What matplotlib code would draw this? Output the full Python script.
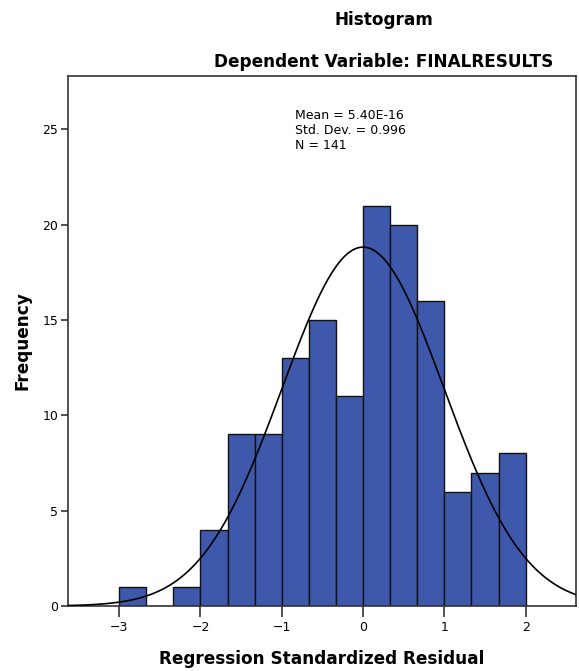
import numpy as np
import matplotlib.pyplot as plt

bin_edges = np.linspace(-3, 2, 16)
counts = [1, 0, 1, 4, 9, 9, 13, 15, 11, 21, 20, 16, 6, 7, 8]
mean = 5.40e-16
std = 0.996
n = 141

fig = plt.figure(figsize=(5.79, 6.71), dpi=100)
ax = fig.add_axes([0.1174, 0.0969, 0.8774, 0.7898])

width = bin_edges[1] - bin_edges[0]
ax.bar(bin_edges[:-1], counts, width=width, align='edge',
       color='#3e58ac', edgecolor='#111111', linewidth=1.0, zorder=2)

xs = np.linspace(-3.63, 2.62, 400)
ys = n * width / (std * np.sqrt(2 * np.pi)) * np.exp(-0.5 * ((xs - mean) / std) ** 2)
ax.plot(xs, ys, color='black', linewidth=1.2, zorder=3)

ax.set_xlim(-3.63, 2.62)
ax.set_ylim(0, 27.8)
ax.set_xticks([-3, -2, -1, 0, 1, 2])
ax.set_xticklabels(['\u22123', '\u22122', '\u22121', '0', '1', '2'])
ax.set_yticks([0, 5, 10, 15, 20, 25])
ax.tick_params(axis='x', direction='out', length=8, width=1.2, labelsize=9, pad=3,
               color='#333333')
ax.tick_params(axis='y', direction='out', length=5, width=1.2, labelsize=9, pad=2,
               color='#333333')
for s in ax.spines.values():
    s.set_linewidth(1.2)
    s.set_color('#333333')

ax.set_xlabel('Regression Standardized Residual', fontsize=12.2, fontweight='bold', labelpad=11)
ax.set_ylabel('Frequency', fontsize=12.2, fontweight='bold', labelpad=7.5)

fig.text(0.663, 0.970, 'Histogram', ha='center', va='center', fontsize=12.2, fontweight='bold')
fig.text(0.663, 0.907, 'Dependent Variable: FINALRESULTS', ha='center', va='center',
         fontsize=12.2, fontweight='bold')

fig.text(0.509, 0.806, 'Mean = 5.40E-16\nStd. Dev. = 0.996\nN = 141', ha='left', va='center',
         fontsize=9, linespacing=1.2)

fig.savefig('out.png', dpi=100)
